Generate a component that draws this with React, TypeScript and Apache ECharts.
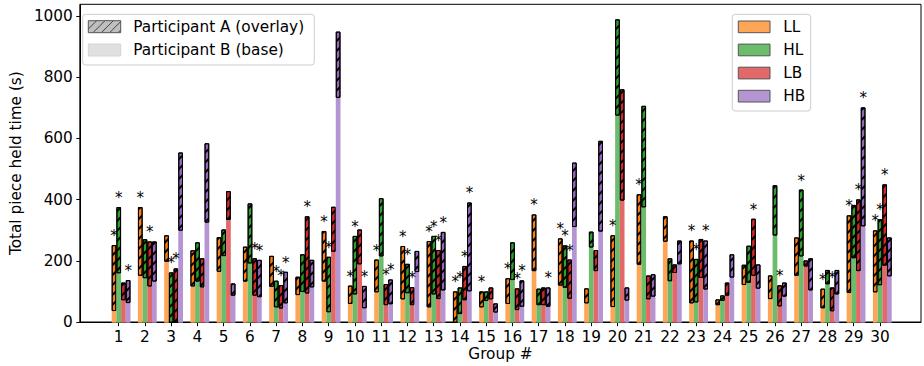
import React, { useEffect, useRef } from "react";
import * as echarts from "echarts";

const groups = [1,2,3,4,5,6,7,8,9,10,11,12,13,14,15,16,17,18,19,20,21,22,23,24,25,26,27,28,29,30];
const yTicks = [0, 200, 400, 600, 800, 1000];

// Participant B (base) = lower value, Participant A (overlay) = top of hatched bar
const LL_base = [38,153,199,118,166,134,117,90,134,61,99,76,50,0,50,61,168,121,63,51,189,264,63,57,123,77,153,47,97,99];
const LL_top  = [253,377,285,236,279,248,218,150,299,121,206,250,266,102,102,145,353,275,112,285,419,347,268,76,189,154,278,111,350,301];
const HL_base = [161,145,0,134,217,193,50,100,34,92,216,96,92,28,71,139,57,114,245,675,376,135,66,71,130,284,216,125,210,122];
const HL_top  = [377,272,164,262,304,389,137,223,215,283,406,192,283,115,102,262,111,252,297,989,707,210,208,89,251,448,434,172,384,337];
const LB_base = [73,118,0,115,335,88,46,95,231,190,57,57,77,73,76,41,57,78,168,398,76,162,146,88,153,53,183,37,168,186];
const LB_top  = [131,265,177,210,429,210,123,347,378,304,126,116,237,185,115,112,115,206,237,761,154,190,273,131,339,122,203,115,402,451];
const HB_base = [64,134,300,326,88,83,63,115,733,47,60,165,105,102,33,52,52,312,297,72,85,190,108,147,111,85,105,92,314,151];
const HB_top  = [139,265,555,585,128,205,166,205,949,120,141,234,296,392,63,138,115,522,593,115,158,268,268,223,190,131,210,172,702,278];

// significance markers (1 = asterisk)
const LL_star = [1,1,0,0,0,0,0,0,1,1,1,1,1,1,1,1,1,1,0,1,1,0,1,0,0,0,0,1,1,1];
const HL_star = [1,0,1,0,0,0,1,0,1,1,0,1,1,1,0,0,0,1,0,0,0,0,1,0,0,0,1,0,0,1];
const LB_star = [0,1,1,0,0,1,1,1,0,0,1,1,1,1,0,1,0,1,0,0,0,0,0,0,1,1,0,1,1,1];
const HB_star = [1,0,0,0,0,1,1,0,0,1,1,0,1,1,0,1,1,0,0,0,0,0,1,0,0,0,0,0,1,0];

const seriesNames = ["LL", "HL", "LB", "HB"];
const lightColors = ["#FFA556", "#6BBC6B", "#E26869", "#B495D1"];
const darkColors = ["#FF7F0E", "#2CA02C", "#D62728", "#9467BD"];

const FONT = "DejaVu Sans";
const Y_MAX = 1038;
const BAR_W = 4.7;
// horizontal offset of each series' column from the category centre (pad column first)
const SLOT_DX = [-BAR_W, 0, BAR_W, 2 * BAR_W];

function hatchLines(x0: number, y0: number, w: number, h: number, step: number, stroke: string) {
  const out: any[] = [];
  for (let x = x0 - h; x < x0 + w; x += step) {
    const t0 = Math.max(0, x0 - x);
    const t1 = Math.min(h, x0 + w - x);
    if (t1 <= t0) continue;
    out.push({
      type: "line",
      shape: { x1: x + t0, y1: y0 + h - t0, x2: x + t1, y2: y0 + h - t1 },
      style: { stroke, lineWidth: 1 },
      silent: true,
    });
  }
  return out;
}

export default function App() {
  const ref = useRef<HTMLDivElement>(null);
  useEffect(() => {
    if (!ref.current) return;
    const chart = echarts.init(ref.current, null, { renderer: "svg" });
    const bases = [LL_base, HL_base, LB_base, HB_base];
    const tops = [LL_top, HL_top, LB_top, HB_top];
    const stars = [LL_star, HL_star, LB_star, HB_star];

    const series: any[] = [
      {
        type: "bar", name: "pad", stack: "pad", barWidth: BAR_W, barGap: "0%",
        xAxisIndex: 0, yAxisIndex: 0, data: groups.map(() => 0), silent: true,
        itemStyle: { color: "transparent" },
      },
    ];
    seriesNames.forEach((n, k) => {
      series.push({
        type: "bar",
        name: n + " (B)",
        stack: n,
        barWidth: BAR_W,
        barGap: "0%",
        xAxisIndex: 0,
        yAxisIndex: 0,
        silent: true,
        itemStyle: { color: lightColors[k] },
        data: bases[k].map((v) => v),
      });
      series.push({
        type: "bar",
        name: n + " (A)",
        stack: n,
        barWidth: BAR_W,
        barGap: "0%",
        xAxisIndex: 0,
        yAxisIndex: 0,
        silent: true,
        itemStyle: {
          color: darkColors[k],
          borderColor: "#000",
          borderWidth: 1,
          decal: {
            symbol: "rect",
            symbolSize: 1,
            color: "#000",
            dashArrayX: [1, 0],
            dashArrayY: [1.2, 4.7],
            rotation: -Math.PI / 4,
          },
        },
        data: groups.map((g, i) => tops[k][i] - bases[k][i]),
      });
    });
    // asterisks (custom series drawing text above flagged bars)
    seriesNames.forEach((n, k) => {
      const dx = SLOT_DX[k];
      series.push({
        type: "custom",
        name: n + " *",
        xAxisIndex: 0,
        yAxisIndex: 0,
        silent: true,
        z: 5,
        data: groups
          .map((g, i) => [i, tops[k][i], stars[k][i]])
          .filter((d) => d[2] === 1),
        renderItem: (params: any, api: any) => {
          const p = api.coord([api.value(0), api.value(1)]);
          return {
            type: "text",
            x: p[0] + dx,
            y: p[1] - 1.5,
            style: {
              text: "*",
              fill: "#000",
              font: `15px "${FONT}"`,
              align: "center",
              verticalAlign: "bottom",
            },
          };
        },
      });
    });

    const graphics: any[] = [];
    // legend 1
    graphics.push({
      type: "rect",
      shape: { x: 82.7, y: 14.3, width: 231.6, height: 50.7, r: 3 },
      style: { fill: "rgba(255,255,255,0.8)", stroke: "#cccccc", lineWidth: 1 },
      silent: true,
    });
    graphics.push({
      type: "rect",
      shape: { x: 88.3, y: 20.7, width: 32.4, height: 12 },
      style: { fill: "#bfbfbf", stroke: "none" },
      silent: true,
    });
    hatchLines(88.3, 20.7, 32.4, 12, 8.33, "#444").forEach((l) => graphics.push(l));
    graphics.push({
      type: "rect",
      shape: { x: 88.3, y: 20.7, width: 32.4, height: 12 },
      style: { fill: "none", stroke: "#555", lineWidth: 1 },
      silent: true,
    });
    graphics.push({
      type: "rect",
      shape: { x: 88.3, y: 44, width: 32.4, height: 12 },
      style: { fill: "#e0e0e0", stroke: "#d4d4d4", lineWidth: 1 },
      silent: true,
    });
    graphics.push({
      type: "text", x: 133.3, y: 26.7,
      style: { text: "Participant A (overlay)", font: `15.3px "${FONT}"`, fill: "#000", verticalAlign: "middle", align: "left" },
      silent: true,
    });
    graphics.push({
      type: "text", x: 133.3, y: 50,
      style: { text: "Participant B (base)", font: `15.3px "${FONT}"`, fill: "#000", verticalAlign: "middle", align: "left" },
      silent: true,
    });
    // legend 2
    graphics.push({
      type: "rect",
      shape: { x: 732.3, y: 14.3, width: 78.4, height: 96.7, r: 3 },
      style: { fill: "rgba(255,255,255,0.8)", stroke: "#cccccc", lineWidth: 1 },
      silent: true,
    });
    seriesNames.forEach((n, k) => {
      const y = 21 + k * 23.1;
      graphics.push({
        type: "rect",
        shape: { x: 738.3, y, width: 31.7, height: 11.7 },
        style: { fill: lightColors[k], stroke: "#555", lineWidth: 1 },
        silent: true,
      });
      graphics.push({
        type: "text", x: 783.3, y: y + 6,
        style: { text: n, font: `15.3px "${FONT}"`, fill: "#000", verticalAlign: "middle", align: "left" },
        silent: true,
      });
    });

    const labelFmt = (v: any) => String(v);

    chart.setOption({
      animation: false,
      textStyle: { fontFamily: FONT },
      grid: [
        // bars grid: 30 bands of 26.25px, group 1 centred at x=118.7
        { left: 105.6, right: 30.9, top: 4.3, bottom: 43.3, show: false },
        // frame grid (spines)
        { left: 72.7, right: 3, top: 4.3, bottom: 43.3, show: true, borderColor: "#000", borderWidth: 1, backgroundColor: "transparent" },
      ],
      xAxis: [
        {
          type: "category",
          gridIndex: 0,
          data: groups.map(String),
          boundaryGap: true,
          axisLine: { show: false },
          axisTick: { show: true, alignWithLabel: true, length: 3.5, lineStyle: { color: "#000" } },
          axisLabel: { fontSize: 15.3, color: "#000", margin: 7, fontFamily: FONT, interval: 0 },
          splitLine: { show: false },
        },
        {
          type: "value",
          gridIndex: 1,
          min: 0,
          max: 1,
          name: "Group #",
          nameLocation: "middle",
          nameGap: 24,
          nameTextStyle: { fontSize: 15.3, color: "#000", fontFamily: FONT },
          axisLine: { show: true, lineStyle: { color: "#000", width: 1 } },
          axisTick: { show: false },
          axisLabel: { show: false },
          splitLine: { show: false },
        },
      ],
      yAxis: [
        {
          type: "value",
          gridIndex: 0,
          min: 0,
          max: Y_MAX,
          show: false,
          splitLine: { show: false },
        },
        {
          type: "value",
          gridIndex: 1,
          min: 0,
          max: Y_MAX,
          interval: 200,
          name: "Total piece held time (s)",
          nameLocation: "middle",
          nameGap: 46,
          nameTextStyle: { fontSize: 15.3, color: "#000", fontFamily: FONT },
          axisLine: { show: true, lineStyle: { color: "#000", width: 1 } },
          axisTick: { show: true, length: 3.5, customValues: yTicks, lineStyle: { color: "#000" } },
          axisLabel: { customValues: yTicks, formatter: labelFmt, fontSize: 15.3, color: "#000", margin: 7, fontFamily: FONT },
          splitLine: { show: false },
        },
      ],
      series,
      graphic: graphics,
    });
    return () => chart.dispose();
  }, []);
  return (
    <div
      ref={ref}
      style={{ position: "fixed", left: 0, top: 0, width: 924, height: 366, background: "#fff" }}
    />
  );
}
